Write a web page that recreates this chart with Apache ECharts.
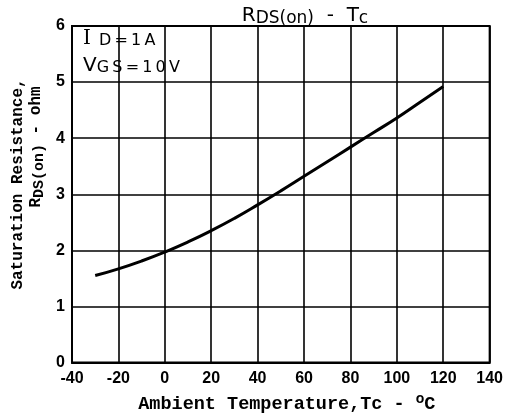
<!DOCTYPE html>
<html>
<head>
<meta charset="utf-8">
<script src="https://cdn.jsdelivr.net/npm/echarts@6/dist/echarts.min.js"></script>
<style>
html,body{margin:0;padding:0;background:#fff;}
#c{width:506px;height:419px;}
</style>
</head>
<body>
<div id="c"></div>
<script>
var temperatures = [-30, -20, -10, 0, 10, 20, 30, 40, 50, 60, 70, 80, 90, 100, 110, 120];
var rdsOn = [1.55, 1.67, 1.81, 1.97, 2.15, 2.35, 2.57, 2.81, 3.06, 3.32, 3.58, 3.84, 4.10, 4.36, 4.64, 4.92];
var xTicks = {min: -40, max: 140, step: 20};
var yTicks = {min: 0, max: 6, step: 1};

var chart = echarts.init(document.getElementById('c'), null, {renderer: 'canvas'});
var mono = '"Liberation Mono", "DejaVu Sans Mono", monospace';
var sans = '"Liberation Sans", Arial, sans-serif';
var cond = '"DejaVu Sans", "Liberation Sans", sans-serif';
var hs = '\u2009';

chart.setOption({
  backgroundColor: '#fff',
  animation: false,
  title: {
    text: '{b|R}{s|DS(on)}{b|  -  T}{s|c}',
    left: 300, top: 0, textAlign: 'center',
    textStyle: {
      rich: {
        b: {fontFamily: cond, fontSize: 20, color: '#000', fontWeight: 'normal'},
        s: {fontFamily: cond, fontSize: 17, color: '#000', fontWeight: 'normal', padding: [5, 0, 0, 0]}
      }
    }
  },
  grid: {left: 72, right: 9, top: 26, bottom: 48, show: true, borderColor: '#000', borderWidth: 2},
  xAxis: {
    type: 'value', min: xTicks.min, max: xTicks.max, interval: xTicks.step,
    axisLine: {show: true, onZero: false, lineStyle: {color: '#000', width: 2}},
    axisTick: {show: false},
    splitLine: {show: true, lineStyle: {color: '#000', width: 1.6}},
    axisLabel: {color: '#000', fontFamily: sans, fontWeight: 'bold', fontSize: 16, margin: 8},
    name: '{t|Ambient Temperature,Tc - }{sup|o}{t|C}',
    nameLocation: 'middle', nameGap: 30,
    nameTextStyle: {
      padding: [0, 0, 0, 12],
      rich: {
        t: {fontFamily: mono, fontWeight: 'bold', fontSize: 18.5, color: '#000'},
        sup: {fontFamily: sans, fontWeight: 'bold', fontSize: 14, color: '#000', padding: [0, 0, 10, 0]}
      }
    }
  },
  yAxis: {
    type: 'value', min: yTicks.min, max: yTicks.max, interval: yTicks.step,
    axisLine: {show: true, onZero: false, lineStyle: {color: '#000', width: 2}},
    axisTick: {show: false},
    splitLine: {show: true, lineStyle: {color: '#000', width: 1.6}},
    axisLabel: {color: '#000', fontFamily: sans, fontWeight: 'bold', fontSize: 16, margin: 7}
  },
  graphic: [
    {type: 'text', x: 18, y: 184, rotation: Math.PI / 2, style: {
      text: 'Saturation Resistance,',
      font: 'bold 16px ' + mono, fill: '#000',
      align: 'center', verticalAlign: 'middle', textAlign: 'center', textVerticalAlign: 'middle'
    }},
    {type: 'text', x: 36, y: 147, rotation: Math.PI / 2, style: {
      text: '{t|R}{s|DS(on)}{t| - ohm}',
      align: 'center', verticalAlign: 'middle', textAlign: 'center', textVerticalAlign: 'middle',
      rich: {
        t: {fontFamily: mono, fontWeight: 'bold', fontSize: 16, fill: '#000'},
        s: {fontFamily: mono, fontWeight: 'bold', fontSize: 15, fill: '#000', padding: [6, 0, 0, 0]}
      }
    }},
    {type: 'text', left: 83, top: 29, style: {
      text: '{b|I' + hs + hs + '}{s|D' + hs + '=' + hs + '1' + hs + 'A}',
      rich: {
        b: {fontFamily: 'DejaVu Serif', fontSize: 20, fill: '#000'},
        s: {fontFamily: cond, fontSize: 16, fill: '#000', padding: [3, 0, 0, 0]}
      }}},
    {type: 'text', left: 83, top: 56, style: {
      text: '{b|V}{s|G' + hs + 'S' + hs + '=' + hs + '1' + hs + '0' + hs + 'V}',
      rich: {
        b: {fontFamily: cond, fontSize: 20, fill: '#000'},
        s: {fontFamily: cond, fontSize: 16, fill: '#000', padding: [3, 0, 0, 0]}
      }}}
  ],
  series: [{
    type: 'line',
    data: temperatures.map(function (t, i) { return [t, rdsOn[i]]; }),
    smooth: true, symbol: 'none',
    lineStyle: {color: '#000', width: 3}
  }]
});
</script>
</body>
</html>
